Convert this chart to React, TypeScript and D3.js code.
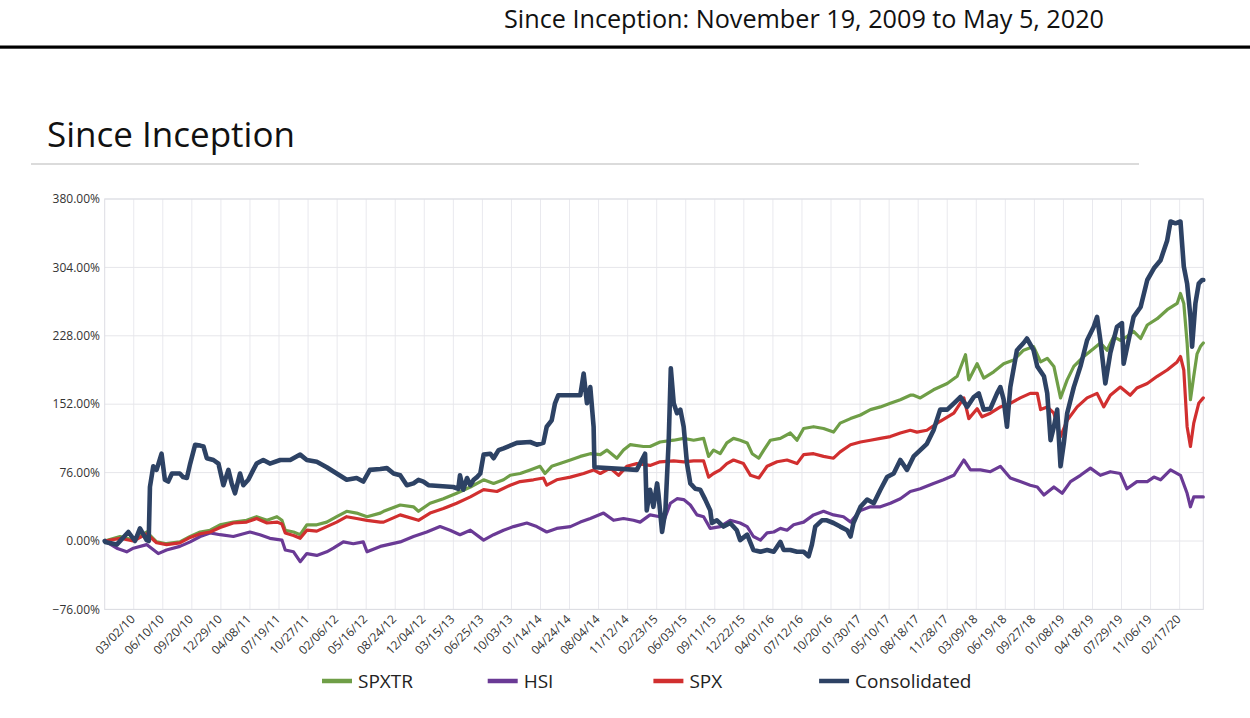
import React from "react";
import * as d3 from "d3";

// ---- data (x = trading-day index since 11/19/2009, y = cumulative return %) ----
const tickLabels = [
  "03/02/10", "06/10/10", "09/20/10", "12/29/10", "04/08/11", "07/19/11", "10/27/11",
  "02/06/12", "05/16/12", "08/24/12", "12/04/12", "03/15/13", "06/25/13", "10/03/13",
  "01/14/14", "04/24/14", "08/04/14", "11/12/14", "02/23/15", "06/03/15", "09/11/15",
  "12/22/15", "04/01/16", "07/12/16", "10/20/16", "01/30/17", "05/10/17", "08/18/17",
  "11/28/17", "03/09/18", "06/19/18", "09/27/18", "01/08/19", "04/18/19", "07/29/19",
  "11/06/19", "02/17/20",
];
const tickStep = 70;
const lastDay = 2647;
const yTicks = [-76, 0, 76, 152, 228, 304, 380];

const spxtr: [number, number][] = [[0,0],[37,5],[69,1],[101,10],[125,-1],[149,-3],[181,-1],[206,5],[230,10],[254,12],[278,18],[310,21],[342,23],[366,27],[391,23],[415,27],[427,23],[435,12],[455,10],[471,7],[487,18],[511,18],[535,21],[559,27],[583,33],[607,31],[632,27],[664,31],[672,33],[712,40],[744,38],[756,33],[784,42],[816,47],[848,53],[881,60],[913,68],[937,64],[961,68],[977,73],[1001,75],[1025,79],[1049,83],[1061,75],[1077,83],[1097,86],[1122,90],[1146,94],[1170,97],[1194,96],[1210,101],[1234,92],[1250,101],[1266,107],[1298,105],[1314,105],[1338,110],[1371,112],[1395,114],[1419,112],[1443,114],[1455,94],[1467,101],[1483,97],[1499,109],[1515,114],[1531,112],[1548,109],[1560,97],[1576,92],[1588,101],[1604,112],[1628,114],[1652,120],[1668,112],[1684,125],[1708,127],[1732,125],[1756,121],[1772,131],[1797,136],[1821,140],[1845,146],[1869,149],[1893,153],[1917,157],[1941,162],[1949,162],[1965,159],[1997,168],[2030,175],[2054,183],[2074,207],[2082,179],[2102,197],[2118,181],[2142,188],[2166,197],[2190,201],[2214,212],[2238,216],[2255,199],[2271,203],[2287,194],[2303,159],[2319,179],[2335,194],[2359,205],[2383,214],[2399,220],[2415,212],[2431,227],[2447,223],[2463,227],[2479,233],[2496,225],[2512,240],[2536,247],[2560,257],[2584,264],[2592,275],[2600,264],[2608,220],[2616,157],[2624,183],[2632,208],[2640,216],[2647,220]];

const hsi: [number, number][] = [[0,0],[29,-8],[53,-12],[69,-8],[101,-4],[129,-14],[149,-10],[181,-6],[206,-1],[230,5],[254,9],[278,7],[310,5],[350,10],[374,7],[398,3],[427,1],[435,-10],[455,-12],[471,-23],[487,-14],[511,-16],[535,-12],[551,-8],[575,-1],[599,-3],[623,-1],[632,-12],[664,-6],[712,-1],[744,5],[776,10],[808,16],[832,12],[856,7],[881,12],[913,1],[937,7],[961,12],[985,16],[1017,20],[1041,16],[1065,10],[1089,14],[1122,16],[1146,21],[1170,25],[1202,31],[1226,23],[1250,25],[1274,23],[1290,21],[1314,29],[1338,27],[1346,21],[1363,42],[1379,47],[1395,46],[1411,40],[1427,29],[1443,27],[1459,14],[1483,16],[1507,23],[1531,20],[1548,16],[1563,5],[1580,1],[1596,9],[1612,10],[1628,14],[1644,12],[1660,18],[1684,21],[1708,29],[1732,33],[1756,29],[1780,27],[1797,21],[1821,34],[1845,38],[1869,38],[1893,42],[1917,47],[1941,55],[1965,58],[1997,64],[2021,68],[2046,73],[2070,90],[2086,79],[2110,79],[2134,77],[2158,83],[2182,70],[2206,66],[2230,62],[2247,60],[2263,51],[2287,60],[2307,53],[2327,66],[2351,73],[2375,81],[2399,73],[2423,77],[2447,75],[2463,58],[2487,66],[2512,66],[2528,71],[2544,68],[2568,79],[2592,73],[2608,53],[2616,38],[2624,49],[2647,49]];

const spx: [number, number][] = [[0,0],[37,3],[69,0],[101,8],[125,-2],[149,-4],[181,-2],[206,4],[230,8],[254,10],[278,15],[310,20],[342,21],[366,25],[391,20],[415,21],[427,19],[435,9],[455,6],[471,3],[487,12],[511,11],[535,16],[559,21],[583,27],[607,25],[632,23],[664,21],[672,21],[712,29],[756,23],[784,31],[816,36],[848,42],[881,49],[913,57],[945,55],[977,62],[1001,66],[1033,68],[1057,70],[1065,62],[1089,68],[1122,71],[1154,75],[1178,79],[1194,75],[1218,81],[1238,73],[1258,83],[1282,86],[1314,84],[1338,88],[1371,89],[1395,88],[1419,89],[1443,89],[1455,71],[1467,75],[1483,79],[1499,86],[1515,90],[1539,86],[1556,73],[1576,70],[1596,83],[1620,88],[1644,90],[1668,86],[1684,96],[1708,97],[1732,94],[1756,92],[1772,99],[1797,107],[1821,110],[1845,112],[1869,114],[1893,116],[1917,120],[1941,123],[1957,121],[1981,123],[2013,133],[2046,142],[2070,159],[2082,136],[2102,147],[2114,138],[2134,142],[2158,149],[2182,153],[2206,159],[2230,164],[2247,164],[2255,146],[2271,149],[2287,142],[2303,116],[2319,134],[2343,149],[2367,159],[2391,164],[2407,149],[2423,162],[2447,171],[2471,162],[2487,170],[2512,175],[2536,183],[2560,190],[2584,199],[2592,205],[2600,190],[2608,127],[2616,105],[2624,131],[2636,153],[2647,159]];

const consolidated: [number, number][] = [[0,0],[1,-1],[29,-4],[57,10],[73,0],[85,14],[101,1],[106,0],[109,60],[117,83],[125,79],[137,97],[145,68],[153,66],[162,75],[181,75],[189,71],[198,70],[206,86],[218,107],[230,106],[238,105],[246,92],[262,90],[274,86],[286,62],[298,79],[306,64],[314,53],[326,75],[334,62],[346,68],[358,79],[366,86],[382,90],[398,86],[423,90],[447,90],[471,96],[487,90],[511,88],[535,82],[559,75],[583,68],[607,70],[623,66],[639,79],[664,80],[680,81],[696,75],[712,73],[728,62],[744,64],[756,68],[768,66],[780,62],[840,60],[852,58],[856,73],[864,57],[873,70],[881,62],[889,68],[897,71],[905,75],[913,96],[929,97],[937,92],[949,101],[961,103],[993,109],[1025,110],[1041,107],[1057,109],[1065,127],[1077,134],[1085,153],[1093,162],[1146,162],[1154,186],[1162,153],[1170,171],[1178,127],[1180,82],[1282,79],[1302,97],[1306,34],[1314,57],[1322,38],[1331,64],[1334,53],[1343,10],[1351,34],[1359,112],[1364,192],[1371,153],[1379,142],[1387,146],[1395,127],[1403,86],[1411,64],[1423,58],[1435,57],[1447,46],[1459,34],[1463,20],[1475,23],[1491,16],[1507,20],[1523,12],[1531,1],[1548,7],[1563,-10],[1580,-12],[1596,-10],[1612,-12],[1628,-1],[1636,-10],[1652,-10],[1668,-12],[1684,-12],[1696,-17],[1704,-4],[1712,16],[1728,23],[1740,23],[1756,20],[1772,16],[1789,12],[1797,5],[1804,20],[1821,38],[1837,46],[1853,42],[1869,57],[1885,71],[1901,75],[1917,90],[1933,79],[1949,94],[1965,101],[1981,108],[1997,123],[2013,146],[2030,146],[2046,153],[2062,160],[2078,149],[2094,160],[2106,164],[2118,146],[2134,147],[2150,164],[2158,171],[2166,157],[2174,127],[2182,171],[2198,212],[2214,220],[2222,225],[2238,212],[2247,194],[2263,183],[2271,164],[2279,112],[2287,127],[2295,146],[2303,83],[2311,109],[2319,142],[2335,171],[2351,194],[2367,223],[2383,238],[2391,249],[2399,223],[2411,175],[2423,209],[2439,238],[2451,242],[2455,197],[2467,223],[2479,249],[2496,260],[2512,290],[2528,303],[2544,312],[2560,334],[2568,355],[2580,353],[2592,355],[2600,305],[2608,286],[2616,249],[2620,216],[2628,264],[2636,286],[2644,290],[2647,290]];

const seriesNames = ["SPXTR", "HSI", "SPX", "Consolidated"];
const seriesColors = ["#6f9e47", "#6a3a95", "#d12f2f", "#2d4264"];
const seriesData = [spxtr, hsi, spx, consolidated];
const seriesWidths = [3.2, 3.2, 3.2, 4.6];

export default function App() {
  const W = 1250, H = 718;
  const left = 104.7, right = 1203.3, top = 199, bottom = 609.4;
  const x = d3.scaleLinear().domain([0, lastDay]).range([left, right]);
  const y = d3.scaleLinear().domain([-76, 380]).range([bottom, top]);
  const line = d3.line<[number, number]>().x(d => x(d[0])).y(d => y(d[1]));
  const fmt = (v: number) => d3.format(".2f")(v) + "%";
  const font = "'Open Sans', 'Noto Sans', sans-serif";
  const legendStart = 322, legendStep = 165.7;

  return (
    <div style={{ position: "absolute", left: 0, top: 0 }}>
      <svg width={W} height={H} style={{ display: "block", background: "#fff" }} fontFamily={font}>
        <text x={504} y={28} fontSize={26} fill="#111" textLength={600} lengthAdjust="spacingAndGlyphs">
          Since Inception: November 19, 2009 to May 5, 2020
        </text>
        <rect x={0} y={45.5} width={W} height={3.2} fill="#000" />
        <text x={47} y={147} fontSize={35} fill="#111">Since Inception</text>
        <line x1={31} x2={1139} y1={164} y2={164} stroke="#cfcfcf" strokeWidth={1.5} />

        {/* grid */}
        {tickLabels.map((_, i) => (
          <line key={"vg" + i} x1={x((i + 1) * tickStep)} x2={x((i + 1) * tickStep)} y1={top} y2={bottom}
            stroke="#e9e9ee" strokeWidth={1} />
        ))}
        {yTicks.map(t => (
          <line key={"hg" + t} x1={left} x2={right} y1={y(t)} y2={y(t)} stroke="#e6e6ea" strokeWidth={1} />
        ))}
        <rect x={left} y={top} width={right - left} height={bottom - top} fill="none" stroke="#dcdde3" strokeWidth={1} />

        {/* y labels */}
        {yTicks.map(t => (
          <text key={"yl" + t} x={100} y={y(t)} dy="0.35em" textAnchor="end" fontSize={12} fill="#333">
            {fmt(t)}
          </text>
        ))}
        {/* x labels */}
        {tickLabels.map((lab, i) => {
          const tx = x((i + 1) * tickStep) + 2;
          const ty = 620;
          return (
            <text key={"xl" + i} x={tx} y={ty} textAnchor="end" fontSize={12} fill="#333"
              transform={`rotate(-45 ${tx} ${ty})`}>
              {lab}
            </text>
          );
        })}

        {/* series */}
        {seriesData.map((d, i) => (
          <path key={seriesNames[i]} d={line(d) || ""} fill="none" stroke={seriesColors[i]}
            strokeWidth={seriesWidths[i]} strokeLinejoin="round" strokeLinecap="round" />
        ))}

        {/* legend */}
        {seriesNames.map((n, i) => {
          const lx = legendStart + i * legendStep;
          return (
            <g key={"lg" + n}>
              <line x1={lx} x2={lx + 30} y1={681} y2={681} stroke={seriesColors[i]} strokeWidth={4.5} />
              <text x={lx + 36} y={688} fontSize={19} fill="#222">{n}</text>
            </g>
          );
        })}
      </svg>
    </div>
  );
}
